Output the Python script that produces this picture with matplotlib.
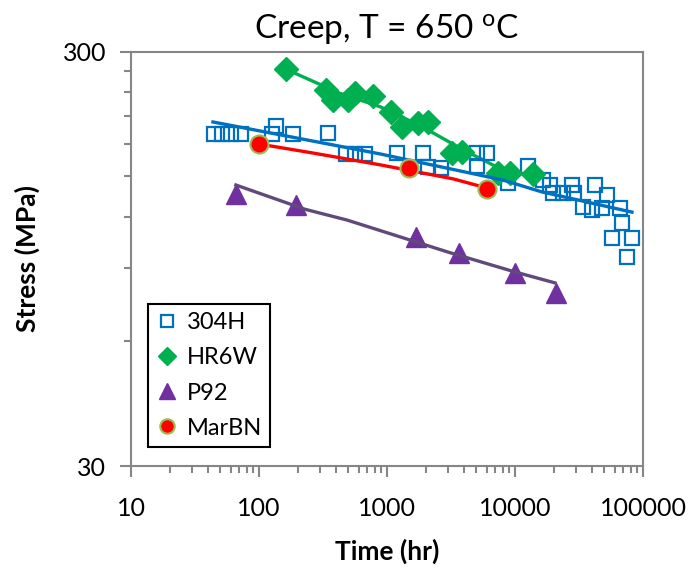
import numpy as np, matplotlib
matplotlib.use("Agg"); import matplotlib.pyplot as plt
from matplotlib.ticker import FixedLocator, FixedFormatter, NullFormatter
plt.rcParams.update({"font.family":["Lato","DejaVu Sans"],"font.size":16})

# 304H (open squares) and its fit line
h304_t=[44.5,51.4,60.4,72.3,136,126,184,346,478,562,673,1197,1910,2090,2640,5050,6040,5050,8810,12640,
        16560,18760,19800,23700,27900,28900,42200,52300,34000,40000,47900,66100,68500,57300,82100,75000]
h304_s=[190,190,190,190,198.5,190,190,191,170,170,170,171,171,158,157,171,171,159,144.6,159,
        147,143,136.8,136.8,143,136.8,143,135.3,126.6,124.5,125.9,125.9,115.8,106.5,106.5,95.8]
h304_fit_t=[43.7,881,8050,16250,82000]
h304_fit_s=[203,170,147,137.6,123]
# HR6W (diamonds)
hr6w_t=[163,334,378,495,562,778,1075,1310,1746,2090,3220,3855,7360,9140,13840]
hr6w_s=[272,242.5,229,229,238,234.6,214.6,197,202,203,171,171.8,152.9,152.9,152]
hr6w_fit_t=[163,430,881,1810,3925,7230,14860]
hr6w_fit_s=[272,238,221,199,174,158,149]
# P92 (triangles)
p92_t=[66,194,1690,3650,10000,20900]
p92_s=[136,128,107,98,87.7,78.5]
p92_fit_t=[66,228,487,1019,2998,10000,20540]
p92_fit_s=[143,125,117.7,109.5,98.5,88.2,83]
# MarBN (circles)
marbn_t=[100,1486,6040]
marbn_s=[179.6,157,140]
marbn_fit_t=[100,259,881,3280,6040]
marbn_fit_s=[179.6,171,160,148,140.6]

xticks=[10,100,1000,10000,100000]; xlabels=["10","100","1000","10000","100000"]
yticks=[30,300]; ylabels=["30","300"]; yminor=[60,90,120,150,180,210,240,270]

BL,GR,PU,PL,RD="#0070C0","#00B050","#7030A0","#604A7B","#FF0000"
fig=plt.figure(figsize=(6.95,5.73),dpi=100)
ax=fig.add_axes([131/695,1-466/573,512/695,(466-51.7)/573])
ax.set_xscale("log"); ax.set_yscale("log")

ax.plot(h304_t,h304_s,"s",mfc="none",mec=BL,mew=1.6,ms=10.5,label="304H",zorder=3)
ax.plot(hr6w_t,hr6w_s,"D",color=GR,ms=12,label="HR6W",zorder=3)
ax.plot(p92_t,p92_s,"^",color=PU,ms=15,label="P92",zorder=3)
ax.plot(marbn_t,marbn_s,"o",mfc=RD,mec="#9BBB59",mew=1.5,ms=13,label="MarBN",zorder=5)
ax.plot(h304_fit_t,h304_fit_s,color=BL,lw=2.4,zorder=4)
ax.plot(hr6w_fit_t,hr6w_fit_s,color=GR,lw=2.4,zorder=2)
ax.plot(p92_fit_t,p92_fit_s,color=PL,lw=2.4,zorder=4)
ax.plot(marbn_fit_t,marbn_fit_s,color=RD,lw=2.4,zorder=4)

ax.set_xlim(10,1e5); ax.set_ylim(30,300)
ax.xaxis.set_major_locator(FixedLocator(xticks)); ax.xaxis.set_major_formatter(FixedFormatter(xlabels))
ax.yaxis.set_major_locator(FixedLocator(yticks)); ax.yaxis.set_major_formatter(FixedFormatter(ylabels))
ax.yaxis.set_minor_locator(FixedLocator(yminor)); ax.yaxis.set_minor_formatter(NullFormatter())
ax.xaxis.set_minor_formatter(NullFormatter())
for s in ax.spines.values(): s.set_color("#868686"); s.set_linewidth(1.5)
ax.tick_params(which="major",length=8,width=1.5,color="#868686",labelsize=18)
ax.tick_params(axis="x",which="major",pad=14); ax.tick_params(axis="y",which="major",pad=10)
ax.tick_params(which="minor",length=5,width=1.5,color="#868686")
ax.set_title("Creep, T = 650 $\\mathregular{^{o}}$C",fontsize=24,pad=10)
ax.set_xlabel("Time (hr)",fontweight="bold",fontsize=19,labelpad=14)
ax.set_ylabel("Stress (MPa)",fontweight="bold",fontsize=19,labelpad=16)
lg=ax.legend(loc="lower left",bbox_to_anchor=(0.033,0.046),borderaxespad=0,fancybox=False,
             edgecolor="black",framealpha=1,handlelength=0.9,handletextpad=0.4,labelspacing=0.6,
             borderpad=0.35,fontsize=17,markerscale=0.8)
lg.get_frame().set_linewidth(1.5)
fig.savefig("out.png",dpi=100)
